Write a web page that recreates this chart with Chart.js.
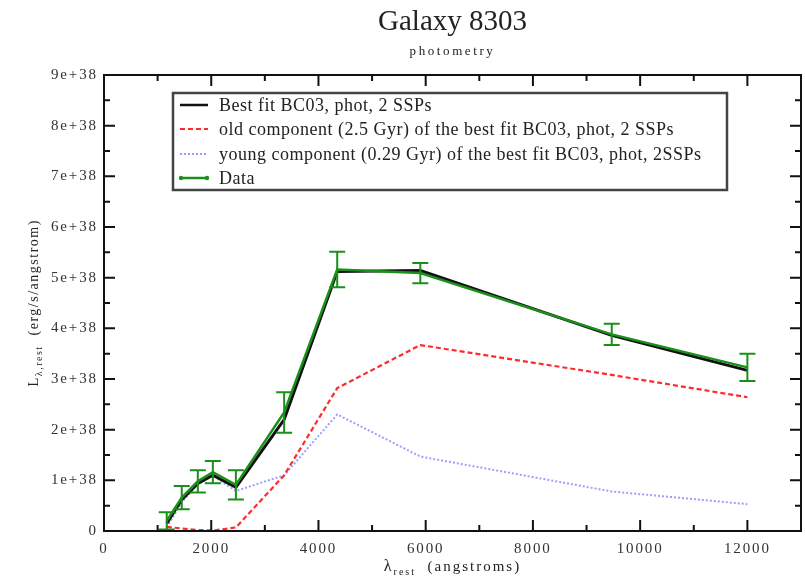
<!DOCTYPE html>
<html>
<head>
<meta charset="utf-8">
<title>Galaxy 8303</title>
<script src="https://cdn.jsdelivr.net/npm/chart.js@4.4.1/dist/chart.umd.min.js"></script>
<style>
    html, body { margin: 0; padding: 0; background: #fff; }
    canvas { display: block; }
</style>
</head>
<body>
<canvas id="grafico" width="805" height="576"></canvas>
<script>
// ===== DATA =====
// rest-frame wavelengths (angstroms)
const lambdaRest = [1170, 1450, 1750, 2030, 2460, 3360, 4350, 5900, 9470, 12000];

// observed photometry and its errors (erg/s/angstrom)
const lumData = [0.20e38, 0.66e38, 0.98e38, 1.16e38, 0.91e38, 2.34e38, 5.16e38, 5.09e38, 3.88e38, 3.23e38];
const lumErr  = [0.17e38, 0.23e38, 0.22e38, 0.22e38, 0.29e38, 0.40e38, 0.35e38, 0.20e38, 0.21e38, 0.27e38];

// best fit (two SSPs) and its two components
const lumBestFit = [0.15e38, 0.62e38, 0.94e38, 1.10e38, 0.86e38, 2.20e38, 5.12e38, 5.14e38, 3.86e38, 3.17e38];
const lumOld     = [0.08e38, 0.05e38, 0.02e38, 0.01e38, 0.07e38, 1.10e38, 2.82e38, 3.67e38, 3.08e38, 2.64e38];
const lumYoung   = [0.07e38, 0.57e38, 0.92e38, 1.09e38, 0.79e38, 1.10e38, 2.30e38, 1.47e38, 0.78e38, 0.53e38];

const seriesLabels = [
    "Best fit BC03, phot, 2 SSPs",
    "old component (2.5 Gyr) of the best fit BC03, phot, 2 SSPs",
    "young component (0.29 Gyr) of the best fit BC03, phot, 2SSPs",
    "Data"
];

// ===== TICKS =====
const xTicks = [0, 2000, 4000, 6000, 8000, 10000, 12000];
const xMinorTicks = [1000, 3000, 5000, 7000, 9000, 11000];
const yTicks = [0, 1e38, 2e38, 3e38, 4e38, 5e38, 6e38, 7e38, 8e38, 9e38];
const yMinorTicks = [0.5e38, 1.5e38, 2.5e38, 3.5e38, 4.5e38, 5.5e38, 6.5e38, 7.5e38, 8.5e38];

const SERIF = "'Liberation Serif', 'DejaVu Serif', serif";
const GREEN = "#1a901a";

const pontos = (ys) => lambdaRest.map((x, i) => ({ x: x, y: ys[i] }));

// ===== PLUGINS =====
// text spacing for everything drawn on the canvas
const espacamento = {
    id: "espacamento",
    beforeDraw(chart) {
        chart.ctx.letterSpacing = "1.9px";
    }
};

// vertical error bars on the data series
const barrasErro = {
    id: "barrasErro",
    afterDatasetsDraw(chart) {
        const { ctx, scales: { x, y } } = chart;
        ctx.save();
        ctx.strokeStyle = GREEN;
        ctx.lineWidth = 2;
        ctx.beginPath();
        lambdaRest.forEach((lam, i) => {
            const px = x.getPixelForValue(lam);
            const top = y.getPixelForValue(lumData[i] + lumErr[i]);
            const bot = y.getPixelForValue(lumData[i] - lumErr[i]);
            ctx.moveTo(px, top); ctx.lineTo(px, bot);
            ctx.moveTo(px - 8, top); ctx.lineTo(px + 8, top);
            ctx.moveTo(px - 8, bot); ctx.lineTo(px + 8, bot);
        });
        ctx.stroke();
        ctx.restore();
    }
};

// frame, inward ticks, titles and legend
const moldura = {
    id: "moldura",
    afterDraw(chart) {
        const { ctx, chartArea: a, scales: { x, y } } = chart;
        ctx.save();

        // frame
        ctx.strokeStyle = "#111";
        ctx.lineWidth = 2;
        ctx.strokeRect(a.left, a.top, a.right - a.left, a.bottom - a.top);

        // ticks on all four sides
        ctx.beginPath();
        const tickX = (v, len) => {
            const px = x.getPixelForValue(v);
            ctx.moveTo(px, a.bottom); ctx.lineTo(px, a.bottom - len);
            ctx.moveTo(px, a.top); ctx.lineTo(px, a.top + len);
        };
        const tickY = (v, len) => {
            const py = y.getPixelForValue(v);
            ctx.moveTo(a.left, py); ctx.lineTo(a.left + len, py);
            ctx.moveTo(a.right, py); ctx.lineTo(a.right - len, py);
        };
        xTicks.forEach(v => tickX(v, 11));
        xMinorTicks.forEach(v => tickX(v, 6));
        yTicks.forEach(v => tickY(v, 11));
        yMinorTicks.forEach(v => tickY(v, 6));
        ctx.stroke();

        const cx = (a.left + a.right) / 2;
        const cy = (a.top + a.bottom) / 2;
        ctx.fillStyle = "#222";
        ctx.textBaseline = "alphabetic";

        // title and subtitle
        ctx.textAlign = "center";
        ctx.letterSpacing = "0px";
        ctx.font = "29px " + SERIF;
        ctx.fillText("Galaxy 8303", cx, 30);
        ctx.letterSpacing = "2.6px";
        ctx.font = "13px " + SERIF;
        ctx.fillText("photometry", cx, 55);

        // x axis title: λ_rest (angstroms)
        ctx.textAlign = "left";
        ctx.letterSpacing = "2px";
        const partesX = [
            { t: "λ", f: "16px " + SERIF, dy: 0 },
            { t: "rest", f: "10px " + SERIF, dy: 4 },
            { t: "  (angstroms)", f: "15px " + SERIF, dy: 0 }
        ];
        desenhaPartes(ctx, partesX, cx, 571);

        // y axis title: L_λ,rest (erg/s/angstrom)
        ctx.save();
        ctx.translate(33, cy);
        ctx.rotate(-Math.PI / 2);
        ctx.letterSpacing = "1.5px";
        const partesY = [
            { t: "L", f: "15px " + SERIF, dy: 0 },
            { t: "λ,rest", f: "10px " + SERIF, dy: 4 },
            { t: "  (erg/s/angstrom)", f: "14px " + SERIF, dy: 0 }
        ];
        desenhaPartes(ctx, partesY, 0, 5);
        ctx.restore();

        // legend
        desenhaLegenda(chart);

        ctx.restore();
    }
};

// draws a run of text pieces (with subscripts) centred on cx
function desenhaPartes(ctx, partes, cx, base) {
    let total = 0;
    partes.forEach(p => { ctx.font = p.f; p.w = ctx.measureText(p.t).width; total += p.w; });
    let px = cx - total / 2;
    partes.forEach(p => {
        ctx.font = p.f;
        ctx.fillText(p.t, px, base + p.dy);
        px += p.w;
    });
}

function desenhaLegenda(chart) {
    const ctx = chart.ctx;
    const box = { x: 173, y: 93, w: 554, h: 97 };
    const linhas = [105, 129, 154, 178];

    ctx.fillStyle = "#fff";
    ctx.fillRect(box.x, box.y, box.w, box.h);
    ctx.strokeStyle = "#444";
    ctx.lineWidth = 2.5;
    ctx.strokeRect(box.x, box.y, box.w, box.h);

    ctx.font = "18px " + SERIF;
    ctx.letterSpacing = "0.5px";
    ctx.textAlign = "left";
    ctx.textBaseline = "middle";

    chart.data.datasets.forEach((ds, i) => {
        const yy = linhas[i];
        ctx.save();
        ctx.strokeStyle = ds.borderColor;
        ctx.lineWidth = Math.min(ds.borderWidth, 2.5);
        ctx.setLineDash(ds.borderDash || []);
        ctx.beginPath();
        ctx.moveTo(180, yy);
        ctx.lineTo(208, yy);
        ctx.stroke();
        if (ds.label === "Data") {
            ctx.fillStyle = ds.borderColor;
            [181, 207].forEach(px => {
                ctx.beginPath();
                ctx.arc(px, yy, 2.2, 0, Math.PI * 2);
                ctx.fill();
            });
        }
        ctx.restore();
        ctx.fillStyle = "#222";
        ctx.fillText(ds.label, 219, yy + 1);
    });
}

// ===== CHART =====
Chart.defaults.font.family = SERIF;
Chart.defaults.color = "#333";

const ctx = document.getElementById("grafico");

new Chart(ctx, {
    type: "line",
    data: {
        datasets: [
            {
                label: seriesLabels[0],
                data: pontos(lumBestFit),
                borderColor: "#111",
                borderWidth: 3,
                pointRadius: 0,
                order: 2
            },
            {
                label: seriesLabels[1],
                data: pontos(lumOld),
                borderColor: "#ff2a2a",
                borderWidth: 2.2,
                borderDash: [5, 3],
                pointRadius: 0,
                order: 3
            },
            {
                label: seriesLabels[2],
                data: pontos(lumYoung),
                borderColor: "#9e9eff",
                borderWidth: 2,
                borderDash: [2, 2],
                pointRadius: 0,
                order: 4
            },
            {
                label: seriesLabels[3],
                data: pontos(lumData),
                borderColor: GREEN,
                borderWidth: 2.5,
                pointRadius: 0,
                order: 1
            }
        ]
    },
    options: {
        responsive: false,
        animation: false,
        devicePixelRatio: 1,
        layout: { padding: { top: 75, right: 4, bottom: 0, left: 0 } },
        plugins: {
            legend: { display: false },
            title: { display: false },
            tooltip: { enabled: false }
        },
        scales: {
            x: {
                type: "linear",
                min: 0,
                max: 13000,
                afterBuildTicks: (s) => { s.ticks = xTicks.map(v => ({ value: v })); },
                afterFit: (s) => { s.height = 45; },
                grid: { display: false, drawTicks: false },
                border: { display: false },
                ticks: {
                    autoSkip: false,
                    maxRotation: 0,
                    padding: 9,
                    font: { size: 15 },
                    color: "#333",
                    callback: (v) => String(v)
                }
            },
            y: {
                min: 0,
                max: 9e38,
                afterBuildTicks: (s) => { s.ticks = yTicks.map(v => ({ value: v })); },
                afterFit: (s) => { s.width = 104; },
                grid: { display: false, drawTicks: false },
                border: { display: false },
                ticks: {
                    autoSkip: false,
                    padding: 6,
                    font: { size: 15 },
                    color: "#333",
                    callback: (v) => v === 0 ? "0" : Math.round(v / 1e38) + "e+38"
                }
            }
        }
    },
    plugins: [espacamento, barrasErro, moldura]
});
</script>
</body>
</html>
